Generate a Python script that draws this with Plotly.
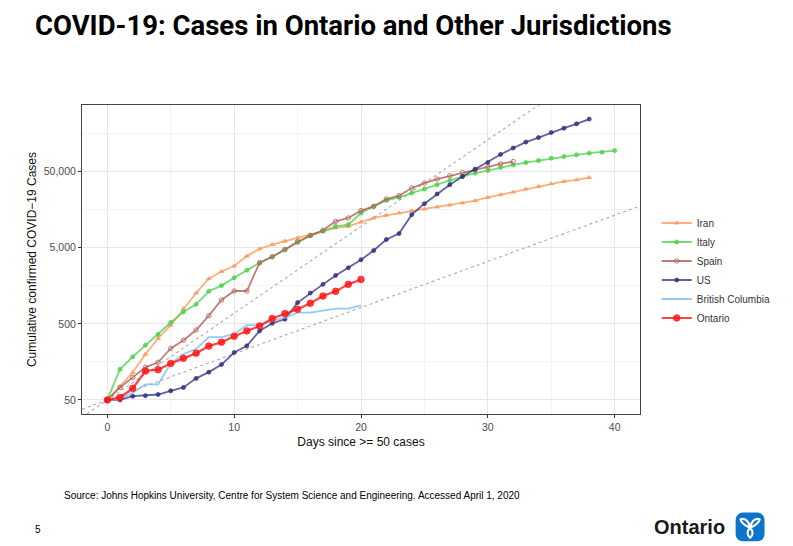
import base64
import plotly.graph_objects as go

# cumulative confirmed cases, day 0 = first day with >= 50 cases
iran = [50, 75, 115, 200, 321, 480, 793, 1270, 1960, 2440, 2880, 3880, 4830, 5500,
        6090, 6740, 7450, 8220, 9100, 9570, 10900, 12300, 13330, 14320, 15350, 16150,
        17150, 18200, 19350, 20750, 22900, 24800, 26950, 29500, 31900, 34600, 37100,
        39000, 41850]
italy = [50, 127, 184, 262, 362, 520, 716, 904, 1340, 1590, 2017, 2538, 3170, 3800,
         4730, 5900, 7220, 8220, 9570, 10060, 14300, 17450, 20950, 22900, 26150, 29500,
         33550, 38250, 43100, 47750, 51650, 56600, 61350, 65750, 69800, 75100, 78900,
         83000, 87300, 90000, 94400]
spain = [50, 73, 99, 134, 156, 238, 305, 415, 640, 1030, 1350, 1350, 3170, 3800, 4730,
         6000, 7220, 8470, 11100, 12300, 15350, 17450, 21800, 24100, 30400, 35300, 39900,
         44050, 48650, 52800, 57500, 63200, 67800]
us = [50, 50, 56, 57, 59, 66, 73, 96, 116, 146, 210, 257, 404, 509, 574, 950, 1270,
      1650, 2163, 2727, 3470, 4590, 6400, 7670, 13600, 18950, 25350, 33550, 43100, 53800,
      65700, 84000, 102000, 122000, 140000, 163000, 186000, 212000, 245000]
bc = [50, 52, 62, 80, 80, 150, 200, 235, 335, 335, 365, 480, 480, 546, 604, 703, 703,
      753, 793, 793, 875]
ontario = [50, 54, 71, 120, 125, 151, 176, 206, 255, 287, 344, 404, 470, 586, 682, 776,
           931, 1159, 1336, 1650, 1918]

# dotted guide lines (30% and 15% daily growth from 50 cases), end points
guide_days = [-2, 42]
guide_30 = [29.6, 3050000]
guide_15 = [37.8, 17700]

y_ticks = [50, 500, 5000, 50000]
y_labels = ["50", "500", "5,000", "50,000"]
y_minor = [15.8, 158, 1581, 15811, 158114]
x_ticks = [0, 10, 20, 30, 40]

series = [
    ("Iran", iran, "rgba(252,155,95,0.8)", "triangle-up", 4),
    ("Italy", italy, "rgba(80,210,80,0.8)", "circle", 4),
    ("Spain", spain, "rgba(175,95,85,0.8)", "circle-open", 4.5),
    ("US", us, "rgba(45,45,125,0.75)", "circle", 4),
    ("British Columbia", bc, "rgba(130,190,240,0.85)", None, 0),
    ("Ontario", ontario, "rgba(255,20,20,0.8)", "circle", 6.5),
]

fig = go.Figure()

for g in (guide_30, guide_15):
    fig.add_trace(go.Scatter(x=guide_days, y=g, mode="lines", showlegend=False,
                             hoverinfo="skip",
                             line=dict(color="#ABABAB", width=1.1, dash="dot")))

for name, vals, col, sym, sz in series:
    days = list(range(len(vals)))
    if sym is None:
        fig.add_trace(go.Scatter(x=days, y=vals, name=name, mode="lines",
                                 line=dict(color=col, width=1.8)))
    else:
        fig.add_trace(go.Scatter(x=days, y=vals, name=name, mode="lines+markers",
                                 line=dict(color=col, width=1.8 if sz < 6 else 2.2),
                                 marker=dict(symbol=sym, size=sz, color=col,
                                             line=dict(color=col, width=1))))

# Ontario logo (blue rounded square with white trillium)
svg = (
    '<svg xmlns="http://www.w3.org/2000/svg" width="100" height="100" viewBox="0 0 100 100">'
    '<rect x="2" y="2" width="96" height="96" rx="24" fill="#0C74CC"/>'
    '<g fill="none" stroke="#ffffff" stroke-width="7" stroke-linejoin="round">'
    '<path d="M50,54 C38,46 22,40 18,24 C34,20 46,30 50,54 Z"/>'
    '<path d="M50,54 C62,46 78,40 82,24 C66,20 54,30 50,54 Z"/>'
    '<path d="M50,54 C40,62 38,76 50,86 C62,76 60,62 50,54 Z"/>'
    '</g></svg>'
)
logo_src = "data:image/svg+xml;base64," + base64.b64encode(svg.encode()).decode()

# the page body adds an 8px offset, so the figure is 8px smaller on each side
fig.update_layout(
    width=785, height=538,
    margin=dict(l=74, r=153, t=97, b=132),
    paper_bgcolor="white", plot_bgcolor="white",
    font=dict(family="Liberation Sans, Arial, sans-serif", size=11, color="#222222"),
    title=dict(text="<b>COVID-19: Cases in Ontario and Other Jurisdictions</b>",
               x=0.0344, xanchor="left", y=0.968, yanchor="middle",
               font=dict(family="Roboto, sans-serif", size=27.5, color="#000000")),
    legend=dict(x=1.03, xanchor="left", y=0.665, yanchor="top",
                font=dict(size=10, color="#333333"), itemwidth=30,
                tracegroupgap=0, bgcolor="rgba(0,0,0,0)"),
    showlegend=True,
    images=[dict(source=logo_src, xref="paper", yref="paper", x=1.1703, y=-0.317,
                 sizex=0.054, sizey=0.097, xanchor="left", yanchor="top",
                 sizing="stretch", layer="above")],
    annotations=[
        dict(text="Source: Johns Hopkins University, Centre for System Science and "
                  "Engineering. Accessed April 1, 2020",
             xref="paper", yref="paper", x=-0.036, y=-0.265, xanchor="left",
             yanchor="middle", showarrow=False, font=dict(size=10, color="#000000")),
        dict(text="5", xref="paper", yref="paper", x=-0.088, y=-0.375,
             xanchor="left", yanchor="middle", showarrow=False,
             font=dict(size=10, color="#000000")),
        dict(text="<b>Ontario</b>", xref="paper", yref="paper", x=1.022, y=-0.366,
             xanchor="left", yanchor="middle", showarrow=False,
             font=dict(family="Liberation Sans, Arial, sans-serif", size=20,
                       color="#1a1a1a")),
    ],
)

fig.update_xaxes(
    range=[-2, 42], tickvals=x_ticks, ticks="outside", ticklen=3, tickcolor="#333333",
    tickfont=dict(size=10.5, color="#4D4D4D"),
    showgrid=True, gridcolor="#E6E6E6", gridwidth=1, zeroline=False,
    minor=dict(tickvals=[5, 15, 25, 35], showgrid=True, gridcolor="#F3F3F3",
               gridwidth=0.6, ticks=""),
    showline=True, linecolor="#444444", linewidth=1, mirror=True,
    title=dict(text="Days since >= 50 cases", font=dict(size=12, color="#111111"),
               standoff=6),
)
fig.update_yaxes(
    type="log", range=[1.5145, 5.574], tickvals=y_ticks, ticktext=y_labels,
    ticks="outside", ticklen=3, tickcolor="#333333",
    tickfont=dict(size=10.5, color="#4D4D4D"),
    showgrid=True, gridcolor="#E6E6E6", gridwidth=1, zeroline=False,
    minor=dict(tickvals=y_minor, showgrid=True, gridcolor="#F3F3F3",
               gridwidth=0.6, ticks=""),
    showline=True, linecolor="#444444", linewidth=1, mirror=True,
    title=dict(text="Cumulative confirmed COVID\u221219 Cases",
               font=dict(size=12, color="#111111"), standoff=4),
)

fig.write_html("out.html")
